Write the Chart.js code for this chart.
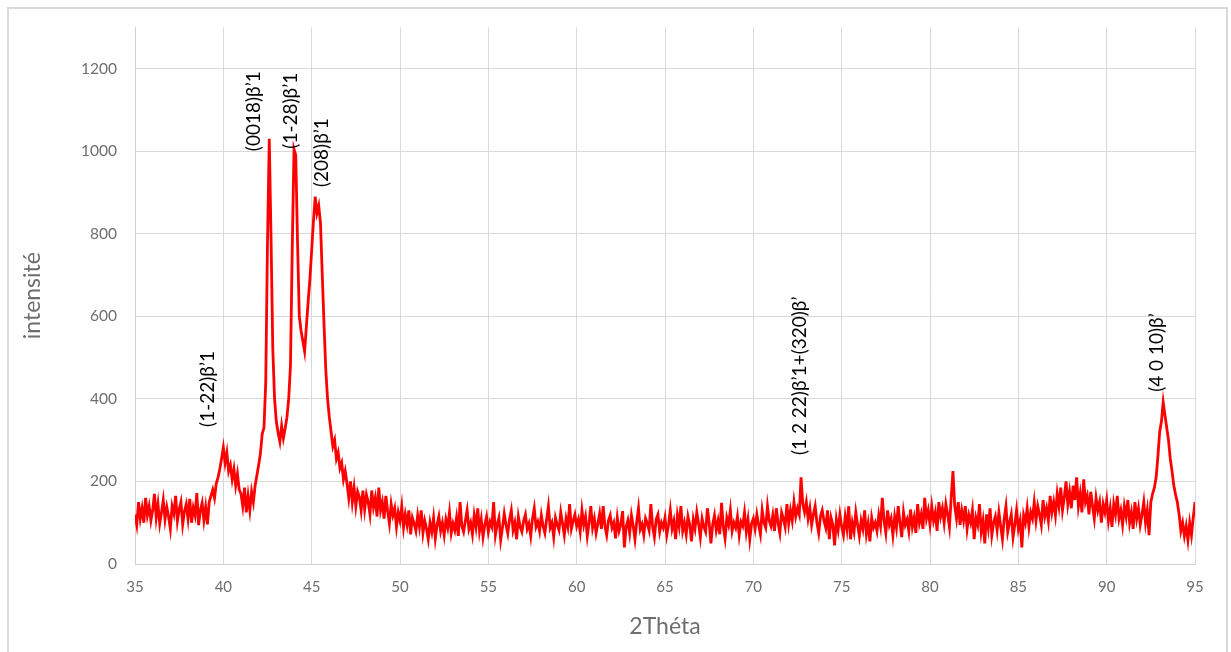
<!DOCTYPE html>
<html>
<head>
<meta charset="utf-8">
<script src="https://cdn.jsdelivr.net/npm/chart.js@4/dist/chart.umd.min.js"></script>
<style>
  html, body { margin: 0; padding: 0; background: #fff; }
  #wrap { position: relative; width: 1231px; height: 652px; overflow: hidden; }
  #frame { position: absolute; left: 7px; top: 7px; width: 1217px; height: 660px; border: 2px solid #d9d9d9; }
  #box { position: absolute; left: 0; top: 0; width: 1231px; height: 652px; }
</style>
</head>
<body>
<div id="wrap">
  <div id="frame"></div>
  <div id="box"><canvas id="xrd"></canvas></div>
</div>
<script>
// scan: 35 -> 95 deg, 0.1 deg step
const thetaStart = 35;
const thetaStep = 0.1;

const intensity = [
  120, 95, 150, 110, 135, 100, 160, 118, 140, 105, // 35
  130, 170, 112, 145, 98, 125, 155, 108, 138, 115, // 36
  85, 140, 122, 165, 104, 132, 150, 96, 128, 145, // 37
  110, 158, 100, 136, 118, 172, 94, 130, 148, 106, // 38
  138, 96, 150, 165, 180, 160, 195, 210, 230, 255, // 39
  282, 245, 270, 225, 240, 205, 230, 190, 218, 180, // 40
  170, 140, 185, 125, 165, 130, 175, 150, 190, 215, // 41
  240, 268, 315, 330, 440, 780, 1030, 790, 520, 400, // 42
  345, 318, 296, 335, 305, 328, 355, 400, 480, 760, // 43
  1005, 990, 780, 600, 565, 540, 515, 575, 635, 690, // 44
  760, 830, 890, 850, 868, 825, 700, 580, 470, 400, // 45
  355, 320, 285, 300, 255, 270, 232, 245, 205, 225, // 46
  195, 160, 200, 150, 185, 140, 175, 162, 130, 178, // 47
  132, 168, 150, 120, 178, 138, 160, 115, 185, 130, // 48
  150, 110, 165, 128, 98, 145, 118, 135, 90, 125, // 49
  105, 140, 88, 120, 95, 130, 72, 112, 98, 80, // 50
  118, 90, 130, 75, 105, 86, 60, 100, 78, 112, // 51
  62, 95, 115, 80, 100, 70, 108, 88, 125, 75, // 52
  98, 82, 112, 68, 150, 92, 78, 105, 130, 85, // 53
  100, 72, 118, 90, 135, 80, 108, 65, 95, 115, // 54
  78, 102, 90, 150, 70, 96, 112, 58, 88, 122, // 55
  95, 74, 108, 130, 82, 100, 60, 115, 90, 78, // 56
  105, 120, 85, 98, 68, 110, 135, 90, 102, 80, // 57
  118, 92, 75, 108, 140, 88, 100, 65, 112, 95, // 58
  82, 125, 98, 70, 110, 90, 145, 85, 104, 120, // 59
  92, 108, 78, 130, 95, 115, 68, 100, 140, 88, // 60
  110, 75, 98, 122, 85, 140, 92, 70, 105, 118, // 61
  88, 100, 62, 112, 80, 95, 128, 40, 90, 106, // 62
  75, 118, 92, 60, 102, 135, 84, 96, 70, 110, // 63
  98, 82, 145, 90, 65, 108, 120, 78, 100, 88, // 64
  112, 70, 95, 130, 85, 104, 60, 118, 92, 140, // 65
  80, 100, 72, 115, 95, 55, 108, 86, 125, 98, // 66
  65, 110, 90, 78, 135, 100, 50, 96, 118, 82, // 67
  105, 72, 148, 90, 62, 112, 95, 130, 80, 100, // 68
  88, 115, 70, 102, 92, 125, 78, 108, 60, 98, // 69
  110, 85, 120, 95, 72, 130, 100, 88, 140, 105, // 70
  92, 118, 80, 135, 100, 75, 125, 110, 90, 145, // 71
  98, 130, 105, 150, 115, 135, 120, 210, 145, 125, // 72
  150, 110, 135, 95, 120, 140, 100, 75, 115, 130, // 73
  105, 88, 130, 60, 112, 95, 45, 108, 82, 120, // 74
  90, 70, 115, 85, 140, 60, 100, 78, 125, 95, // 75
  68, 105, 85, 130, 72, 98, 55, 112, 88, 100, // 76
  80, 118, 92, 160, 105, 75, 130, 95, 110, 70, // 77
  115, 88, 140, 100, 65, 125, 95, 108, 80, 132, // 78
  90, 112, 75, 145, 100, 120, 85, 160, 110, 130, // 79
  95, 140, 105, 125, 80, 150, 115, 135, 100, 145, // 80
  120, 90, 160, 225, 140, 110, 150, 95, 130, 105, // 81
  140, 85, 118, 100, 130, 60, 112, 95, 145, 78, // 82
  105, 50, 120, 88, 135, 70, 100, 115, 82, 125, // 83
  92, 60, 110, 140, 78, 100, 120, 65, 95, 130, // 84
  85, 105, 40, 118, 100, 135, 90, 125, 110, 150, // 85
  105, 140, 120, 95, 155, 115, 135, 105, 165, 125, // 86
  150, 118, 170, 140, 185, 130, 160, 200, 145, 175, // 87
  135, 190, 155, 210, 140, 170, 125, 205, 150, 165, // 88
  120, 175, 140, 110, 160, 130, 150, 100, 145, 125, // 89
  155, 105, 135, 90, 145, 120, 165, 110, 130, 95, // 90
  140, 115, 155, 100, 125, 85, 150, 110, 135, 95, // 91
  120, 150, 100, 130, 70, 150, 170, 185, 210, 260, // 92
  320, 345, 392, 360, 330, 300, 255, 225, 190, 168, // 93
  150, 120, 80, 100, 68, 92, 58, 100, 70, 112, // 94
  150 // 95
];

const xTicks = [35, 40, 45, 50, 55, 60, 65, 70, 75, 80, 85, 90, 95];
const yTicks = [0, 200, 400, 600, 800, 1000, 1200];

const peakNames = [
  "(1-22)β’1",
  "(0018)β’1",
  "(1-28)β’1",
  "(208)β’1",
  "(1 2 22)β’1+(320)β’",
  "(4 0 10)β’"
];
const peakTheta = [39.1, 41.71, 43.83, 45.55, 72.61, 92.85];
const peakLabelBase = [332, 1000, 1006, 913, 264, 417];

const points = intensity.map((v, i) => ({
  x: +(thetaStart + i * thetaStep).toFixed(1),
  y: v,
}));

const peakLabelPlugin = {
  id: "peakLabels",
  afterDatasetsDraw(chart) {
    const { ctx, scales } = chart;
    ctx.save();
    ctx.fillStyle = "#000";
    ctx.font = "19px Lato, 'Open Sans', sans-serif";
    ctx.textAlign = "left";
    ctx.textBaseline = "middle";
    peakNames.forEach((name, i) => {
      const px = scales.x.getPixelForValue(peakTheta[i]);
      const py = scales.y.getPixelForValue(peakLabelBase[i]);
      ctx.save();
      ctx.translate(px, py);
      ctx.rotate(-Math.PI / 2);
      ctx.fillText(name, 0, 0);
      ctx.restore();
    });
    ctx.restore();
  },
};

const gray = "#6e6e6e";
const fontFamily = "Lato, 'Open Sans', sans-serif";

new Chart(document.getElementById("xrd"), {
  type: "line",
  data: {
    datasets: [
      {
        data: points,
        borderColor: "#ff0000",
        borderWidth: 2.8,
        pointRadius: 0,
        tension: 0,
        fill: false,
      },
    ],
  },
  options: {
    responsive: true,
    maintainAspectRatio: false,
    animation: false,
    layout: { padding: { top: 27, right: 36, left: 0, bottom: 0 } },
    plugins: {
      legend: { display: false },
      tooltip: { enabled: false },
    },
    scales: {
      x: {
        type: "linear",
        min: 35,
        max: 95,
        afterBuildTicks: (scale) => {
          scale.ticks = xTicks.map((v) => ({ value: v }));
        },
        afterFit: (scale) => {
          scale.height = 88;
        },
        grid: { color: "#d9d9d9", lineWidth: 1, drawTicks: false },
        border: { color: "#d0d0d0", width: 1 },
        ticks: {
          color: gray,
          padding: 14,
          maxRotation: 0,
          callback: (value) => String(value),
          font: { family: fontFamily, size: 15 },
        },
        title: {
          display: true,
          text: "2Théta",
          color: gray,
          padding: { top: 0, bottom: 12 },
          font: { family: fontFamily, size: 23 },
        },
      },
      y: {
        min: 0,
        max: 1300,
        afterBuildTicks: (scale) => {
          scale.ticks = yTicks.map((v) => ({ value: v }));
        },
        afterFit: (scale) => {
          scale.width = 135;
        },
        grid: { color: "#d9d9d9", lineWidth: 1, drawTicks: false },
        border: { color: "#d0d0d0", width: 1 },
        ticks: {
          color: gray,
          padding: 18,
          callback: (value) => String(value),
          font: { family: fontFamily, size: 15.5 },
        },
        title: {
          display: true,
          text: "intensité",
          color: gray,
          padding: { top: 19, bottom: 0 },
          font: { family: fontFamily, size: 23 },
        },
      },
    },
  },
  plugins: [peakLabelPlugin],
});
</script>
</body>
</html>
